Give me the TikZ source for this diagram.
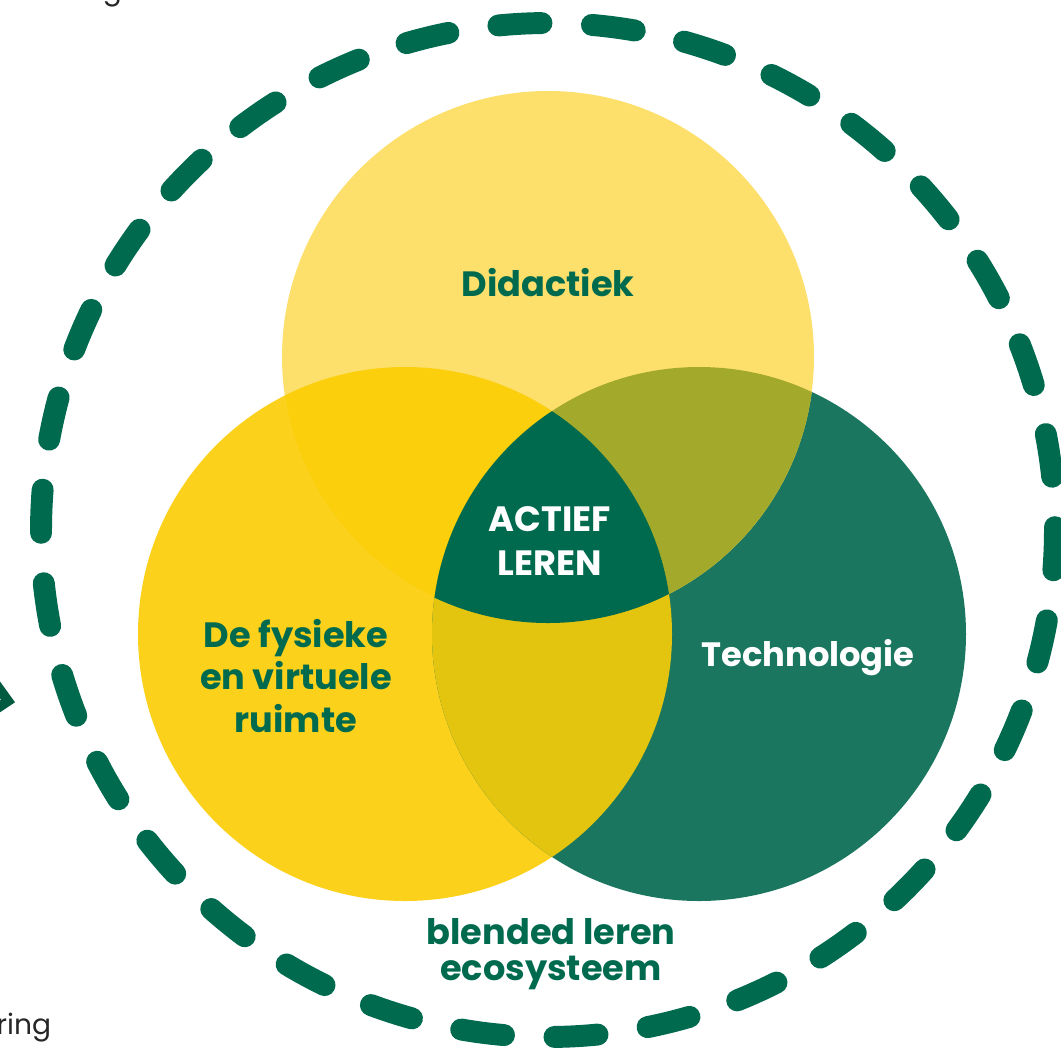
\documentclass[tikz,border=0pt]{standalone}
\usepackage{fontspec}
\setmainfont{Poppins}
\usepackage{tikz}
\definecolor{dgreen}{HTML}{006A4E}
\definecolor{didcol}{HTML}{FDDF6C}
\definecolor{ruimcol}{HTML}{FBD11C}
\definecolor{techcol}{HTML}{1B765F}
\definecolor{didruim}{HTML}{FBCF0C}
\definecolor{didtech}{HTML}{A3AA2B}
\definecolor{ruimtech}{HTML}{E3C50F}
\definecolor{tipgreen}{HTML}{005A40}
\begin{document}
\begin{tikzpicture}[x=0.025cm,y=-0.025cm,
  venntext/.style={font=\bfseries\fontsize{25}{30.5}\selectfont,align=center,text=dgreen},
  sidetext/.style={font=\fontsize{20}{24}\selectfont,text=black!85},
  dashring/.style={draw=dgreen,line width=15.6pt,line cap=round}]
\useasboundingbox (0,0) rectangle (1061,1055);
\coordinate (didc) at (548,357);
\coordinate (ruimc) at (405,634);
\coordinate (techc) at (699,634);
\coordinate (ringc) at (548,530);
\fill[ruimcol] (ruimc) circle (267);
\fill[techcol] (techc) circle (267);
\fill[didcol] (didc) circle (266);
\begin{scope}
\clip (didc) circle (266);
\fill[didruim] (ruimc) circle (267);
\fill[didtech] (techc) circle (267);
\end{scope}
\begin{scope}
\clip (ruimc) circle (267);
\fill[ruimtech] (techc) circle (267);
\clip (didc) circle (266);
\fill[dgreen] (techc) circle (267);
\end{scope}
\foreach \k [evaluate=\k as \a using 84.39+\k*10.588] in {0,...,33}
  \draw[dashring] ([shift={(\a:507)}]ringc) arc[start angle=\a, delta angle=4.88, radius=507];
\draw[tipgreen,line width=7pt] (-10,676) -- (8,701) -- (-10,713);
\node[venntext] (didactiek) at (548,283) {Didactiek};
\node[venntext,text=white,font=\bfseries\fontsize{25}{31}\selectfont] (actief) at (550,541) {ACTIEF\\LEREN};
\node[venntext,text=white,font=\bfseries\fontsize{24}{30}\selectfont] (technologie) at (808,658) {Technologie};
\node[venntext] (ruimte) at (296,676) {De fysieke\\en virtuele\\ruimte};
\node[venntext,font=\bfseries\fontsize{25}{26}\selectfont] (ecosysteem) at (551,954) {blended leren\\ecosysteem};
\node[sidetext,anchor=base east] (ring) at (56,1034) {ring};
\node[sidetext,anchor=base west] (ge) at (98,-1) {ge};
\end{tikzpicture}
\end{document}
